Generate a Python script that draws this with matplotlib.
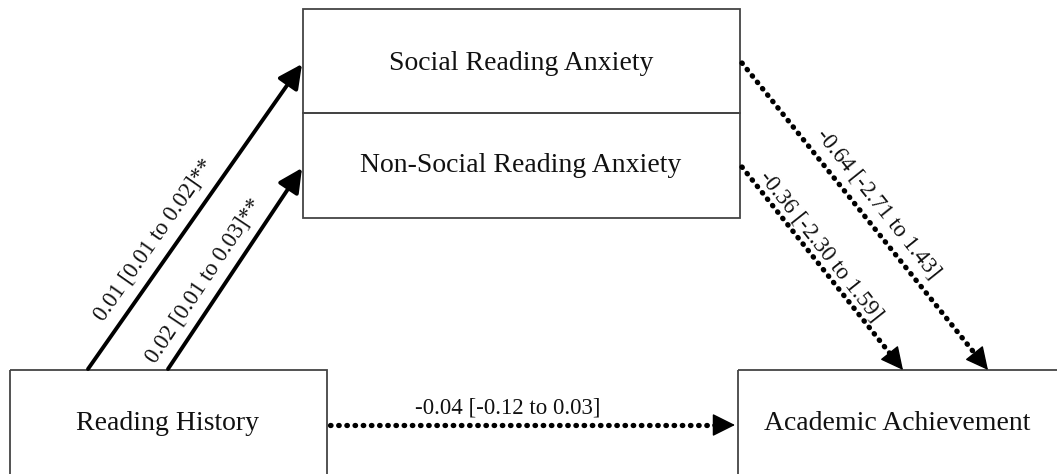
import math
import matplotlib.pyplot as plt
from matplotlib.patches import Rectangle, FancyArrowPatch

# path estimates and 95% CI
nodes = ['Reading History', 'Social Reading Anxiety', 'Non-Social Reading Anxiety', 'Academic Achievement']
paths = [('Reading History', 'Social Reading Anxiety'),
         ('Reading History', 'Non-Social Reading Anxiety'),
         ('Social Reading Anxiety', 'Academic Achievement'),
         ('Non-Social Reading Anxiety', 'Academic Achievement'),
         ('Reading History', 'Academic Achievement')]
estimates = [0.01, 0.02, -0.64, -0.36, -0.04]
ci_low = [0.01, 0.01, -2.71, -2.30, -0.12]
ci_high = [0.02, 0.03, 1.43, 1.59, 0.03]
stars = ['**', '**', '', '', '']

# layout in pixel units (y down)
W, H = 1057, 474
boxes = {
    'Reading History': (10, 370, 317, 110),
    'Social Reading Anxiety': (303, 9, 437, 104),
    'Non-Social Reading Anxiety': (303, 113, 437, 105),
    'Academic Achievement': (738, 370, 330, 110),
}
text_pos = {
    'Reading History': (168, 424),
    'Social Reading Anxiety': (521, 63),
    'Non-Social Reading Anxiety': (521, 165),
    'Academic Achievement': (897, 424),
}
# start / end points of each path
ends = [((88, 369), (302, 64)),
        ((168, 369), (302, 168)),
        ((742, 63), (988, 370)),
        ((742, 167), (903, 370)),
        ((330, 425), (735, 425))]
label_pos = [(154, 240), (204, 281), (878, 204), (821, 246), (508, 408)]

fig = plt.figure(figsize=(W / 100, H / 100), dpi=100)
ax = fig.add_axes([0, 0, 1, 1])
ax.set_xlim(0, W)
ax.set_ylim(H, 0)
ax.axis('off')

font = 'Liberation Serif'
box_col = '#444444'

for name in nodes:
    x, y, w, h = boxes[name]
    ax.add_patch(Rectangle((x, y), w, h, fill=False, edgecolor=box_col, lw=1.3, clip_on=False))
    tx, ty = text_pos[name]
    ax.text(tx, ty, name, ha='center', va='center', fontsize=20, family=font, color='#111111')

for i, (src, dst) in enumerate(paths):
    (x0, y0), (x1, y1) = ends[i]
    if stars[i]:
        ax.add_patch(FancyArrowPatch((x0, y0), (x1, y1), arrowstyle='-|>', mutation_scale=36,
                                     lw=2.8, color='black', shrinkA=0, shrinkB=0))
    else:
        # dotted shaft, solid head
        frac = 18 / math.hypot(x1 - x0, y1 - y0)
        xm, ym = x1 - (x1 - x0) * frac, y1 - (y1 - y0) * frac
        ax.plot([x0, xm], [y0, ym], color='black', lw=3.8, linestyle=(0, (0.1, 1.45)),
                dash_capstyle='round')
        ax.add_patch(FancyArrowPatch((xm - (x1 - x0) * 0.01, ym - (y1 - y0) * 0.01), (x1, y1),
                                     arrowstyle='-|>', mutation_scale=36, lw=1, color='black',
                                     shrinkA=0, shrinkB=0))
    ang = -math.degrees(math.atan2(y1 - y0, x1 - x0))
    label = f'{estimates[i]:.2f} [{ci_low[i]:.2f} to {ci_high[i]:.2f}]{stars[i]}'
    ax.text(label_pos[i][0], label_pos[i][1], label, rotation=ang, rotation_mode='anchor',
            ha='center', va='center', fontsize=16.5, family=font, color='#111111')

fig.savefig('out.png', dpi=100)
